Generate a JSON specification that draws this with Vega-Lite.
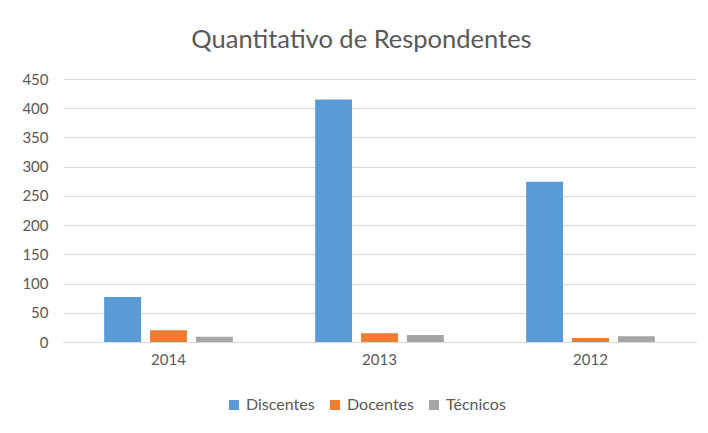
{
  "$schema": "https://vega.github.io/schema/vega-lite/v6.json",
  "width": 633,
  "height": 263,
  "autosize": {"type": "none"},
  "padding": {"left": 63, "top": 79, "right": 12, "bottom": 91},
  "background": "white",
  "title": {
    "text": "Quantitativo de Respondentes",
    "font": "Lato",
    "fontSize": 25.5,
    "fontWeight": "normal",
    "color": "#595959",
    "anchor": "middle",
    "dx": -18,
    "offset": 19
  },
  "data": {
    "values": [
      {"ano": "2014", "grupo": "Discentes", "valor": 77},
      {"ano": "2014", "grupo": "Docentes", "valor": 20},
      {"ano": "2014", "grupo": "Técnicos", "valor": 9},
      {"ano": "2013", "grupo": "Discentes", "valor": 415},
      {"ano": "2013", "grupo": "Docentes", "valor": 15},
      {"ano": "2013", "grupo": "Técnicos", "valor": 12},
      {"ano": "2012", "grupo": "Discentes", "valor": 274},
      {"ano": "2012", "grupo": "Docentes", "valor": 7},
      {"ano": "2012", "grupo": "Técnicos", "valor": 10}
    ]
  },
  "mark": {"type": "bar"},
  "encoding": {
    "x": {
      "field": "ano",
      "type": "nominal",
      "sort": ["2014", "2013", "2012"],
      "scale": {"paddingInner": 0.39, "paddingOuter": 0.195},
      "axis": {
        "title": null,
        "labelAngle": 0,
        "labelFont": "Lato",
        "labelFontSize": 15,
        "labelColor": "#595959",
        "ticks": false,
        "domainColor": "#D9D9D9",
        "labelPadding": 10
      }
    },
    "xOffset": {
      "field": "grupo",
      "type": "nominal",
      "sort": ["Discentes", "Docentes", "Técnicos"],
      "scale": {"paddingInner": 0.196, "paddingOuter": 0}
    },
    "y": {
      "field": "valor",
      "type": "quantitative",
      "scale": {"domain": [0, 450], "nice": false},
      "axis": {
        "title": null,
        "values": [0, 50, 100, 150, 200, 250, 300, 350, 400, 450],
        "labelFont": "Lato",
        "labelFontSize": 15,
        "labelColor": "#595959",
        "ticks": false,
        "domain": false,
        "gridColor": "#D9D9D9",
        "labelPadding": 15
      }
    },
    "color": {
      "field": "grupo",
      "type": "nominal",
      "sort": ["Discentes", "Docentes", "Técnicos"],
      "scale": {
        "domain": ["Discentes", "Docentes", "Técnicos"],
        "range": ["#5B9BD5", "#ED7D31", "#A5A5A5"]
      },
      "legend": {
        "title": null,
        "orient": "none",
        "direction": "horizontal",
        "legendX": 163,
        "legendY": 318,
        "symbolType": "square",
        "symbolSize": 100,
        "symbolStrokeWidth": 0,
        "labelFont": "Lato",
        "labelFontSize": 16,
        "labelColor": "#595959",
        "columnPadding": 12,
        "labelOffset": 4
      }
    }
  },
  "config": {
    "view": {"stroke": null}
  }
}
